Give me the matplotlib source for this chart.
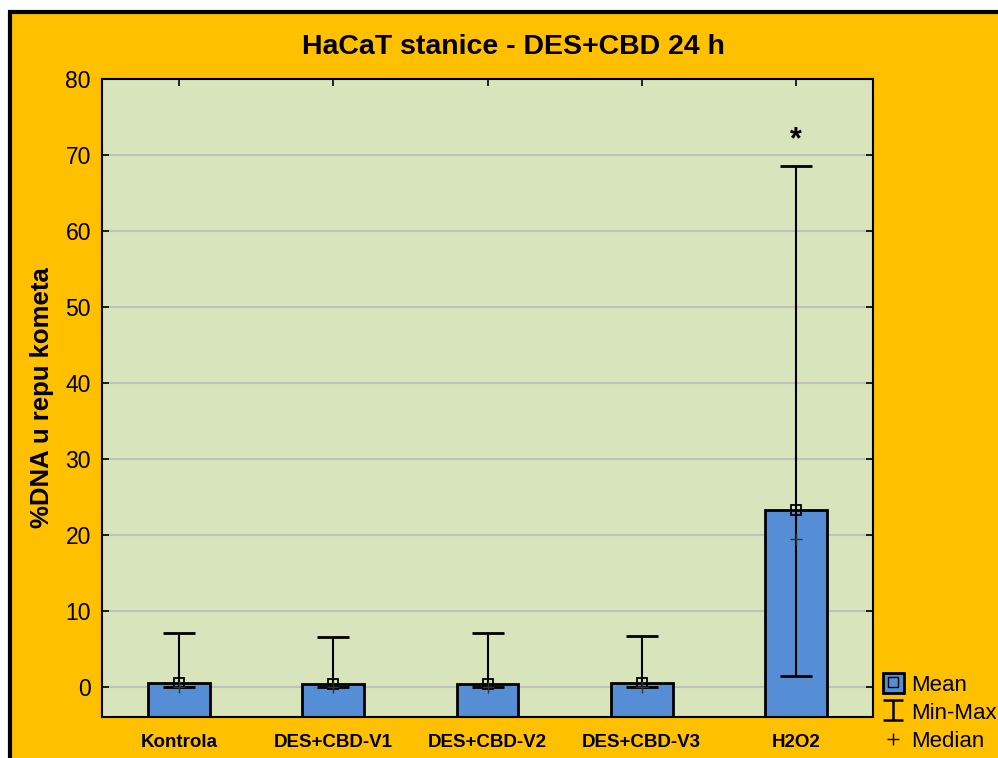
import numpy as np
import matplotlib.pyplot as plt
from matplotlib.patches import Rectangle, Patch
from matplotlib.lines import Line2D
from matplotlib.path import Path

plt.rcParams['font.family'] = ['Liberation Sans', 'DejaVu Sans']

groups = ['Kontrola', 'DES+CBD-V1', 'DES+CBD-V2', 'DES+CBD-V3', 'H2O2']
means = [0.5, 0.3, 0.4, 0.5, 23.2]
mins = [0.0, 0.0, 0.0, 0.0, 1.4]
maxs = [7.0, 6.5, 7.1, 6.6, 68.5]
medians = [0.0, 0.0, 0.0, 0.0, 19.4]
star_group = 'H2O2'
star_y = 72.0

orange = '#FFC000'
plot_bg = '#D8E4BC'
bar_blue = '#558ED5'

fig = plt.figure(figsize=(9.98, 7.58), dpi=100, facecolor='white')
# orange panel with black frame (cropped at right/bottom)
fig.patches.append(Rectangle((10 / 998, -0.1), 1.2, 1.1 - 12 / 758,
                             transform=fig.transFigure, facecolor=orange,
                             edgecolor='black', linewidth=3, zorder=-5))

ax = fig.add_axes([102 / 998, 1 - 717 / 758, 771 / 998, (717 - 79) / 758])
ax.set_zorder(2)
ax.set_facecolor(plot_bg)

x = np.arange(1, len(groups) + 1)
ymin, ymax = -4, 80
ax.set_xlim(0.5, len(groups) + 0.5)
ax.set_ylim(ymin, ymax)

ax.set_yticks(np.arange(0, 81, 10))
ax.yaxis.grid(True, color='#C0C0C0', linewidth=1.5, zorder=0)
ax.set_axisbelow(True)

heights = [m - ymin for m in means]
ax.bar(x, heights, bottom=ymin, width=0.4, color=bar_blue,
       edgecolor='black', linewidth=2, zorder=2)

lower = [m - lo for m, lo in zip(means, mins)]
upper = [hi - m for m, hi in zip(means, maxs)]
ax.errorbar(x, means, yerr=[lower, upper], fmt='none', ecolor='black',
            elinewidth=1.5, capsize=11.5, capthick=2, zorder=3)
ax.plot(x, means, 's', markersize=7, markerfacecolor='none',
        markeredgecolor='black', markeredgewidth=1.3, zorder=4)
ax.plot(x, medians, '+', markersize=8, color='#333333',
        markeredgewidth=1, zorder=4)

ax.text(x[groups.index(star_group)], star_y, '*', ha='center', va='center',
        fontsize=22, fontweight='bold')

ax.set_xticks(x)
ax.set_xticklabels(groups, fontsize=13.5, fontweight='bold')
ax.tick_params(axis='y', labelsize=16.5, direction='in', length=5, width=1.2,
               right=True, pad=8)
ax.tick_params(axis='x', direction='in', length=5, width=1.2, top=True, pad=12)
for s in ax.spines.values():
    s.set_linewidth(1.5)

fig.text(513 / 998, 1 - 47 / 758, 'HaCaT stanice - DES+CBD 24 h', ha='center',
         va='center', fontsize=20.5, fontweight='bold')
ax.set_ylabel('%DNA u repu kometa', fontsize=18.5, fontweight='bold', labelpad=8)

# legend handles
ibeam = Path([(-1, 1), (1, 1), (0, 1), (0, -1), (-1, -1), (1, -1)],
             [Path.MOVETO, Path.LINETO, Path.MOVETO, Path.LINETO,
              Path.MOVETO, Path.LINETO])
mean_handle = (Patch(facecolor=bar_blue, edgecolor='black', linewidth=2),
               Line2D([], [], marker='s', markersize=7, markerfacecolor='none',
                      markeredgecolor='black', linestyle=''))
mm_handle = Line2D([], [], marker=ibeam, markersize=15, markerfacecolor='none',
                   markeredgecolor='black', markeredgewidth=1.8, linestyle='')
med_handle = Line2D([], [], marker='+', markersize=8, color='black', linestyle='')
fig.legend([mean_handle, mm_handle, med_handle], ['Mean', 'Min-Max', 'Median'],
           loc='lower left', bbox_to_anchor=(874 / 998, -0.004),
           frameon=False, fontsize=16, handlelength=0.95, handleheight=0.95,
           handletextpad=0.33, labelspacing=0.27, borderaxespad=0)

fig.savefig('out.png', dpi=100, facecolor=fig.get_facecolor())
